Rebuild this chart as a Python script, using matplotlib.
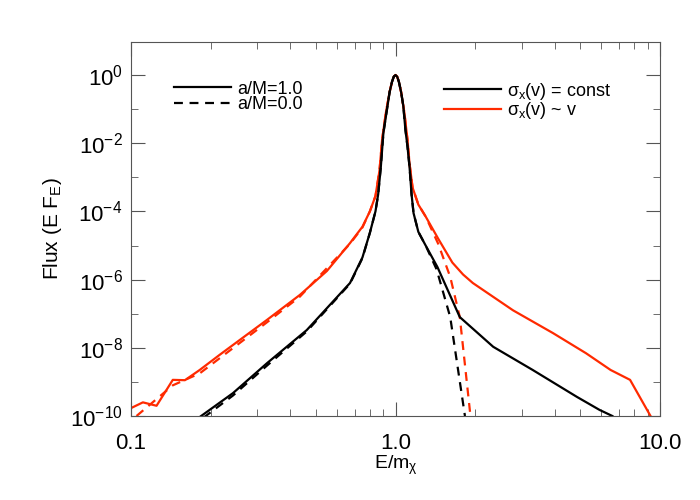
import numpy as np
import matplotlib
matplotlib.use('Agg')
import matplotlib.pyplot as plt
from matplotlib.ticker import LogLocator, NullFormatter

plt.rcParams['font.family'] = ['Liberation Sans', 'DejaVu Sans']
plt.rcParams['mathtext.fontset'] = 'custom'
plt.rcParams['mathtext.rm'] = 'Liberation Sans'
plt.rcParams['mathtext.it'] = 'Liberation Sans'

# ─── DATA (log10 flux) ───────────────────────────────────────────────────
# shared line-peak around E/m = 1
e_peak = [0.92, 0.95, 0.97, 0.985, 1.0, 1.015, 1.03, 1.05, 1.08]
f_peak = [-1.10, -0.50, -0.20, -0.05, 0.0, -0.05, -0.20, -0.50, -1.10]

e_red_a1 = [0.100, 0.111, 0.125, 0.144, 0.160, 0.182, 0.217, 0.26, 0.327, 0.435, 0.55, 0.673, 0.75, 0.80,
            0.84, 0.87, 0.89] + e_peak + [1.11, 1.13, 1.16, 1.22, 1.30, 1.45, 1.64, 1.80, 1.96, 2.78, 3.94,
            5.25, 6.5, 7.7, 9.2]
f_red_a1 = [-9.77, -9.60, -9.70, -8.94, -8.95, -8.65, -8.20, -7.75, -7.18, -6.45, -5.75, -4.93, -4.45, -4.00,
            -3.55, -2.80, -1.90] + f_peak + [-1.90, -2.60, -3.30, -3.80, -4.15, -4.80, -5.50, -5.85, -6.10,
            -6.90, -7.57, -8.16, -8.65, -8.94, -10.0]

e_red_a0 = [0.105, 0.144, 0.182, 0.217, 0.327, 0.435, 0.673, 0.75, 0.80, 0.84, 0.87, 0.89] + e_peak + \
           [1.11, 1.13, 1.16, 1.22, 1.30, 1.45, 1.61, 1.75, 1.92]
f_red_a0 = [-10.0, -9.10, -8.75, -8.30, -7.25, -6.50, -4.95, -4.47, -4.00, -3.55, -2.80, -1.90] + f_peak + \
           [-1.90, -2.60, -3.30, -3.80, -4.15, -4.95, -5.92, -7.10, -10.0]

e_blk_a1 = [0.182, 0.243, 0.327, 0.462, 0.673, 0.75, 0.80, 0.84, 0.86, 0.88, 0.90] + e_peak[1:-1] + \
           [1.07, 1.09, 1.11, 1.13, 1.15, 1.17, 1.22, 1.30, 1.44, 1.75, 2.34, 3.3, 4.85, 5.9, 6.6]
f_blk_a1 = [-10.03, -9.33, -8.45, -7.48, -6.10, -5.35, -4.63, -4.00, -3.50, -2.70, -1.70] + f_peak[1:-1] + \
            [-0.90, -1.60, -2.10, -2.70, -3.50, -4.05, -4.60, -5.00, -5.63, -7.10, -7.97, -8.65, -9.44, -9.82, -10.0]

e_blk_a0 = [0.188, 0.243, 0.327, 0.462, 0.673, 0.75, 0.80, 0.84, 0.86, 0.88, 0.90] + e_peak[1:-1] + \
           [1.07, 1.09, 1.11, 1.13, 1.15, 1.17, 1.22, 1.30, 1.43, 1.61, 1.83]
f_blk_a0 = [-10.05, -9.40, -8.52, -7.52, -6.12, -5.37, -4.63, -4.00, -3.50, -2.70, -1.70] + f_peak[1:-1] + \
           [-0.90, -1.60, -2.10, -2.70, -3.50, -4.05, -4.60, -5.00, -5.70, -7.10, -10.0]

RED = '#ff2a00'

fig, ax = plt.subplots(figsize=(7, 5), dpi=100)
fig.subplots_adjust(left=0.187, right=0.943, top=0.916, bottom=0.168)

ax.plot(e_red_a1, 10**np.array(f_red_a1), color=RED, lw=1.6)
ax.plot(e_red_a0, 10**np.array(f_red_a0), color=RED, lw=1.6, ls=(0, (4, 3)))
ax.plot(e_blk_a1, 10**np.array(f_blk_a1), color='black', lw=1.6)
ax.plot(e_blk_a0, 10**np.array(f_blk_a0), color='black', lw=1.6, ls=(0, (4, 3)))

ax.set_xscale('log')
ax.set_yscale('log')
ax.set_xlim(0.1, 10)
ax.set_ylim(1e-10, 10**0.968)
ax.set_xticks([0.1, 1, 10])
ax.set_xticklabels(['0.1', '1.0', '10.0'])
ax.xaxis.set_minor_locator(LogLocator(base=10, subs=np.arange(2, 10), numticks=20))
ax.xaxis.set_minor_formatter(NullFormatter())
ax.set_yticks([10.0**k for k in range(-10, 1, 2)])
ax.set_yticks([10.0**k for k in range(-9, 1, 2)], minor=True)
ax.set_yticklabels(minor=True, labels=[])
ax.tick_params(which='both', direction='in', top=True, right=True, labelsize=16, color='#555555')
ax.tick_params(which='major', length=10)
ax.tick_params(which='minor', length=5)
ax.tick_params(axis='x', pad=12)
ax.tick_params(axis='y', pad=6)
for s in ax.spines.values():
    s.set_color('#555555')

ax.set_xlabel(r'E/m$_\chi$', fontsize=14, labelpad=0)
ax.set_ylabel(r'Flux (E F$_{\rm E}$)', fontsize=15, labelpad=4)

# legends
l1 = ax.legend(handles=[plt.Line2D([], [], color='black', lw=1.6),
                        plt.Line2D([], [], color='black', lw=1.6, ls=(0, (4, 3)))],
               labels=['a/M=1.0', 'a/M=0.0'], loc='upper left', bbox_to_anchor=(0.05, 0.94),
               frameon=False, fontsize=13, handlelength=3.2, labelspacing=-0.1, handletextpad=0.3)
ax.add_artist(l1)
ax.legend(handles=[plt.Line2D([], [], color='black', lw=1.6),
                   plt.Line2D([], [], color=RED, lw=1.6)],
          labels=[r'$\sigma_{\rm x}$(v) = const', r'$\sigma_{\rm x}$(v) ~ v'],
          loc='upper left', bbox_to_anchor=(0.56, 0.94),
          frameon=False, fontsize=13, handlelength=3.2, labelspacing=-0.1, handletextpad=0.3)

plt.savefig('out.png', dpi=100)
